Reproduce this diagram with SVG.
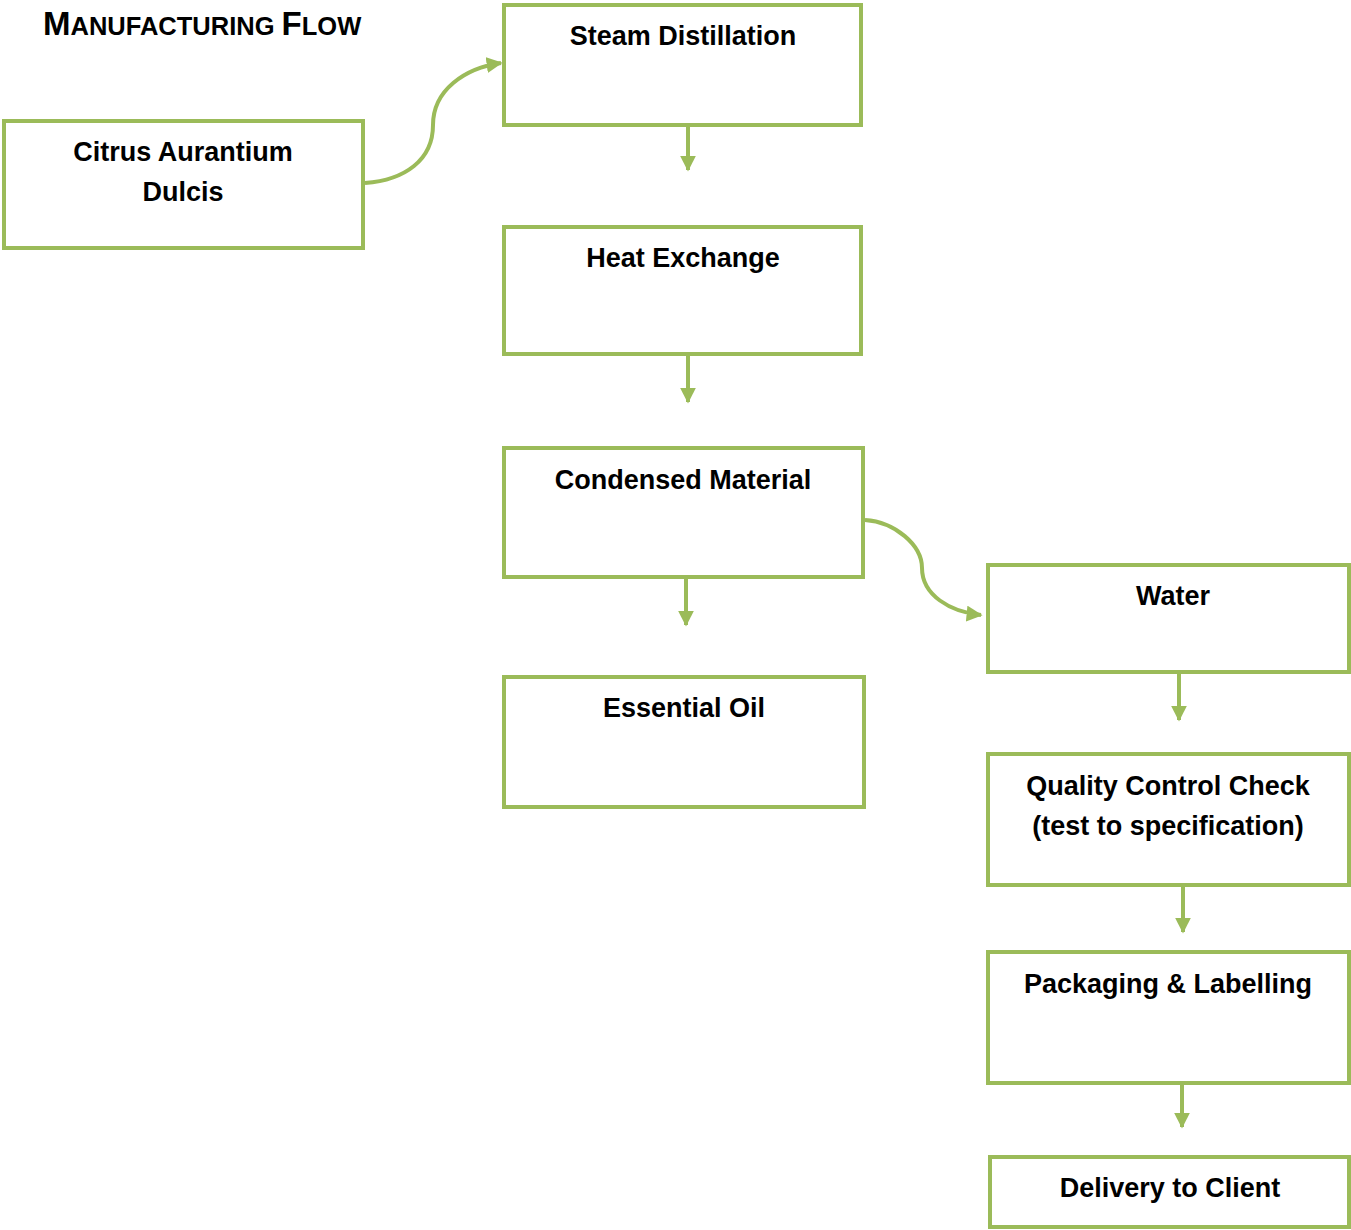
<svg xmlns="http://www.w3.org/2000/svg" width="1351" height="1230" viewBox="0 0 1351 1230">
<style>
.box{fill:#fff;stroke:#9BBB59;stroke-width:4;stroke-linejoin:miter}
.lbl{font-family:"Liberation Sans",Arial,sans-serif;font-weight:bold;font-size:27px;fill:#000;text-anchor:middle}
.conn{fill:none;stroke:#9BBB59;stroke-width:4}
.title{font-family:"Liberation Sans",Arial,sans-serif;font-weight:bold;fill:#000}
</style>
<defs>
<marker id="arr" viewBox="0 0 10 10" refX="9" refY="5" markerWidth="4" markerHeight="4" markerUnits="strokeWidth" orient="auto">
<path d="M0,0 L10,5 L0,10 Z" fill="#9BBB59"/>
</marker>
</defs>
<text class="title" x="43" y="35"><tspan font-size="33">M</tspan><tspan font-size="25.5">ANUFACTURING </tspan><tspan font-size="33">F</tspan><tspan font-size="25.5">LOW</tspan></text>
<g id="connectors">
<path class="conn" marker-end="url(#arr)" d="M365,183 C405,180 433,160 433,125 C433,90 465,68 501,63"/>
<path class="conn" marker-end="url(#arr)" d="M688,127 L688,170"/>
<path class="conn" marker-end="url(#arr)" d="M688,356 L688,402"/>
<path class="conn" marker-end="url(#arr)" d="M686,579 L686,625"/>
<path class="conn" marker-end="url(#arr)" d="M865,520 C895,522 922,545 922,568 C922,595 950,612 981,615"/>
<path class="conn" marker-end="url(#arr)" d="M1179,674 L1179,720"/>
<path class="conn" marker-end="url(#arr)" d="M1183,887 L1183,932"/>
<path class="conn" marker-end="url(#arr)" d="M1182,1085 L1182,1127"/>
</g>
<g id="citrus"><rect class="box" x="4" y="121" width="359" height="127"/><text class="lbl" x="183" y="161">Citrus Aurantium</text><text class="lbl" x="183" y="201">Dulcis</text></g>
<g id="steam"><rect class="box" x="504" y="5" width="357" height="120"/><text class="lbl" x="683" y="45">Steam Distillation</text></g>
<g id="heat"><rect class="box" x="504" y="227" width="357" height="127"/><text class="lbl" x="683" y="267">Heat Exchange</text></g>
<g id="condensed"><rect class="box" x="504" y="448" width="359" height="129"/><text class="lbl" x="683" y="489">Condensed Material</text></g>
<g id="essential"><rect class="box" x="504" y="677" width="360" height="130"/><text class="lbl" x="684" y="717">Essential Oil</text></g>
<g id="water"><rect class="box" x="988" y="565" width="361" height="107"/><text class="lbl" x="1173" y="605">Water</text></g>
<g id="qc"><rect class="box" x="988" y="754" width="361" height="131"/><text class="lbl" x="1168" y="795">Quality Control Check</text><text class="lbl" x="1168" y="835">(test to specification)</text></g>
<g id="packaging"><rect class="box" x="988" y="952" width="361" height="131"/><text class="lbl" x="1168" y="993">Packaging &amp; Labelling</text></g>
<g id="delivery"><rect class="box" x="990" y="1157" width="359" height="70"/><text class="lbl" x="1170" y="1197">Delivery to Client</text></g>
</svg>
